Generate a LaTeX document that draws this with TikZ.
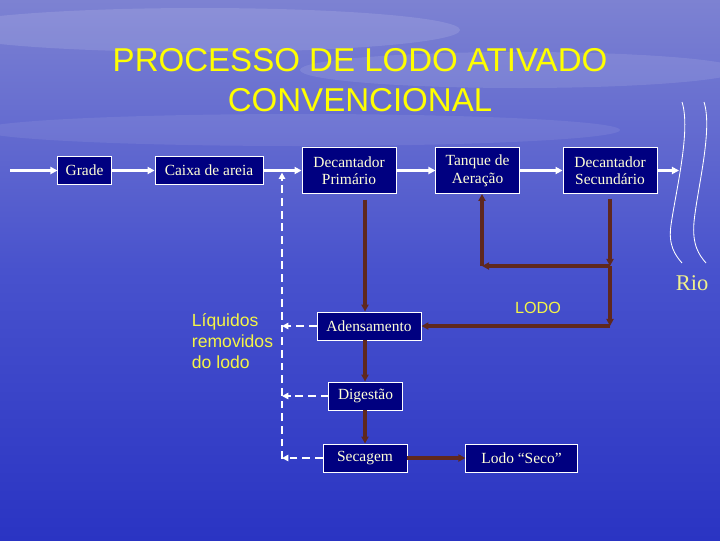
\documentclass[tikz,border=0pt]{standalone}
\usepackage{fontspec}
\setmainfont{Liberation Serif}
\newfontfamily\titlefont{Liberation Sans}
\usetikzlibrary{arrows.meta, positioning}

\definecolor{boxblue}{RGB}{0,0,128}
\definecolor{boxtext}{RGB}{255,255,215}
\definecolor{sludge}{RGB}{95,40,30}
\definecolor{titleyellow}{RGB}{255,255,0}
\definecolor{notetext}{RGB}{245,245,70}
\definecolor{riotext}{RGB}{240,240,140}
\definecolor{skytop}{RGB}{125,130,210}
\definecolor{seamid}{RGB}{72,82,205}
\definecolor{seabot}{RGB}{42,52,195}

\begin{document}
\begin{tikzpicture}[x=0.025cm, y=-0.025cm,
            stage/.style={draw=white, line width=0.6pt, fill=boxblue, text=boxtext, font=\fontsize{11}{12.5}\selectfont, align=center, inner sep=2pt, minimum height=0.7cm},
            flow/.style={-{Triangle[length=5pt,width=5pt]}, white, line width=2.2pt},
            sludgeflow/.style={-{Triangle[length=5pt,width=5pt]}, sludge, line width=2.2pt},
            liquid/.style={-{Triangle[length=4.5pt,width=4.5pt]}, white, line width=2pt, dash pattern=on 5.5pt off 3.5pt},
            note/.style={font=\titlefont\fontsize{12.5}{15}\selectfont, text=notetext, align=left}]

            % Background
            \useasboundingbox (0,0) rectangle (720,540);
            \shade[top color=skytop, bottom color=seabot, middle color=seamid] (0,0) rectangle (720,540);
            \begin{scope}
              \clip (0,0) rectangle (720,540);
              \fill[white, opacity=0.12] (200,30) ellipse (260 and 22);
              \fill[white, opacity=0.10] (520,70) ellipse (220 and 18);
              \fill[white, opacity=0.08] (300,130) ellipse (320 and 16);
            \end{scope}

            % Title
            \node[font=\titlefont\fontsize{23.5}{28.5}\selectfont, text=titleyellow, align=center] (title) at (360,80) {PROCESSO DE LODO ATIVADO\\CONVENCIONAL};

            % Main line of treatment
            \node[stage, minimum width=1.33cm] (grade) at (84.5,170.5) {Grade};
            \node[stage, minimum width=2.7cm, minimum height=0.68cm] (caixa) at (209,170.5) {Caixa de areia};
            \node[stage, minimum width=2.35cm, minimum height=1.15cm] (prim) at (349,170.5) {Decantador\\Primário};
            \node[stage, minimum width=2.08cm, minimum height=1.15cm] (tanque) at (477.5,170.5) {Tanque de\\Aeração};
            \node[stage, minimum width=2.35cm, minimum height=1.17cm] (decsec) at (610,170.5) {Decantador\\Secundário};

            % Sludge line
            \node[stage, minimum width=2.6cm] (adens) at (369,326) {Adensamento};
            \node[stage, minimum width=1.83cm] (digest) at (365.5,396) {Digestão};
            \node[stage, minimum width=2.1cm] (secagem) at (365,458) {Secagem};
            \node[stage, minimum width=2.78cm, right=1.45cm of secagem] (seco) {Lodo “Seco”};

            % Labels
            \node[note, anchor=west] (liquidos) at (187,341) {Líquidos\\removidos\\do lodo};
            \node[font=\titlefont\fontsize{11.5}{13}\selectfont, text=notetext] (lodo) at (538,308) {LODO};
            \node[font=\fontsize{16}{18}\selectfont, text=riotext] (rio) at (692,283) {Rio};

            \coordinate (inlet) at (10,170.5);
            \coordinate (outlet) at (679,170.5);
            \coordinate (retorno) at (282,170.5);
            \coordinate (drain) at (282,459);
            \coordinate (split) at (610,266);
            \coordinate (ret) at (482,266);
            \coordinate (lodoturn) at (610,326);
            \coordinate (col) at (365,0);

            % River banks
            \draw[white, line width=0.6pt] (682,102) .. controls (691,130) and (676,190) .. (671,225) .. controls (668,245) and (675,255) .. (682,263);
            \draw[white, line width=0.6pt] (704,102) .. controls (713,130) and (697,190) .. (694,222) .. controls (692,245) and (699,255) .. (706,263);

            % Liquid flow
            \draw[flow] (inlet) -- (grade);
            \draw[flow] (grade) -- (caixa);
            \draw[flow] (caixa) -- (prim);
            \draw[flow] (prim) -- (tanque);
            \draw[flow] (tanque) -- (decsec);
            \draw[flow] (decsec) -- (outlet);

            % Sludge flow
            \draw[sludgeflow, shorten <=4pt] (prim.south -| col) -- (adens.north -| col);
            \draw[sludgeflow, shorten <=3pt] (decsec.south) -- (split);
            \draw[sludgeflow] (split) -- (ret);
            \draw[sludgeflow] (ret) -- (ret |- tanque.south);
            \draw[sludgeflow] (split) -- (lodoturn);
            \draw[sludgeflow] (lodoturn) -- (adens.east);
            \draw[sludgeflow] (adens.south -| col) -- (digest.north -| col);
            \draw[sludgeflow] (digest.south -| col) -- (secagem.north -| col);
            \draw[sludgeflow] (secagem) -- (seco);

            % Liquids removed from the sludge
            \draw[liquid] (adens.west) -- (adens.west -| drain);
            \draw[liquid] (digest.west) -- (digest.west -| drain);
            \draw[liquid] (secagem.west) -- (secagem.west -| drain);
            \draw[liquid, shorten >=1.5pt] (drain) -- (retorno);
        \end{tikzpicture}
\end{document}
